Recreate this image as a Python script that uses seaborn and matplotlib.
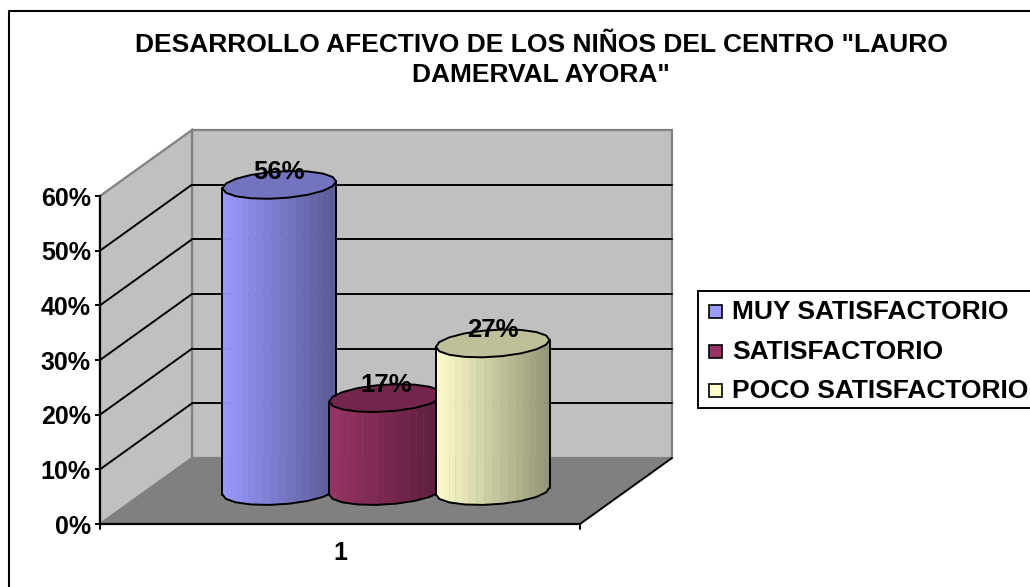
import numpy as np
import pandas as pd
import matplotlib
matplotlib.use('Agg')
import matplotlib.pyplot as plt
import seaborn as sns
from matplotlib.patches import Polygon, Rectangle
from matplotlib.transforms import Affine2D, IdentityTransform

# values
categories = ['1']
series = ['MUY SATISFACTORIO', 'SATISFACTORIO', 'POCO SATISFACTORIO']
values = [56, 17, 27]
colors = ['#9999FF', '#993366', '#FFFFCC']
y_ticks = [0, 10, 20, 30, 40, 50, 60]
title = 'DESARROLLO AFECTIVO DE LOS NIÑOS DEL CENTRO "LAURO\nDAMERVAL AYORA"'

W, H = 1030, 587
DX, DY = 92, 66  # depth of the fake 3d box, pixels


def shade(color, k):
    return tuple(c * k for c in matplotlib.colors.to_rgb(color))


sns.set_theme(style='white')
plt.rcParams['font.family'] = ['Liberation Sans', 'DejaVu Sans']

df = pd.DataFrame({'cat': categories * 3, 'serie': series, 'value': values})

fig = plt.figure(figsize=(W / 100, H / 100), dpi=100)
fig.patch.set_facecolor('white')

ax = fig.add_axes([100 / W, 1 - 524 / H, 480 / W, 328 / H])
sns.barplot(data=df, x='cat', y='value', hue='serie', hue_order=series, palette=colors,
            width=0.667, gap=0, saturation=1, legend=False, ax=ax, zorder=5)
ax.set_xlim(-0.5, 0.5)
ax.set_ylim(0, 60)
ax.patch.set_alpha(0)

mid = ax.transData + Affine2D().translate(DX / 2, DY / 2)

# floor, back wall, side wall
corners = ax.transData.transform([(-0.5, 0), (0.5, 0), (-0.5, 60)])
x0, y0 = corners[0]
x1 = corners[1][0]
y6 = corners[2][1]
px = IdentityTransform()
ax.add_patch(Polygon([(x0, y0), (x1, y0), (x1 + DX, y0 + DY), (x0 + DX, y0 + DY)], transform=px,
                     fc='#808080', ec='none', zorder=1, clip_on=False))
ax.add_patch(Polygon([(x0 + DX, y0 + DY), (x1 + DX, y0 + DY), (x1 + DX, y6 + DY), (x0 + DX, y6 + DY)],
                     transform=px, fc='#C0C0C0', ec='#808080', lw=1.6, zorder=1, clip_on=False))
ax.add_patch(Polygon([(x0, y0), (x0 + DX, y0 + DY), (x0 + DX, y6 + DY), (x0, y6)], transform=px,
                     fc='#C0C0C0', ec='#808080', lw=1.6, zorder=1.5, clip_on=False))
ax.plot([x1, x1 + DX], [y0, y0 + DY], color='black', lw=1.4, transform=px, zorder=2, clip_on=False)
for xe in [x0, x1]:
    ax.plot([xe, xe], [y0, y0 - 5], color='black', lw=1.4, transform=px, zorder=2, clip_on=False)

for t in y_ticks[1:-1]:
    yy = ax.transData.transform((0, t))[1]
    ax.plot([x0, x0 + DX], [yy, yy + DY], color='black', lw=1.4, transform=px, zorder=2, clip_on=False)
    ax.plot([x0 + DX, x1 + DX], [yy + DY, yy + DY], color='black', lw=1.4, transform=px, zorder=2, clip_on=False)

# bars become cylinders, geometry comes from the seaborn rectangles
A_SCALE = 1.065
B = 13.5
TILT = -3.5
N_FACET = 22
N_EDGE = 9
bars = [p for p in ax.patches if isinstance(p, Rectangle) and p.get_zorder() == 5]
for i, (bar, val, col) in enumerate(zip(bars, values, colors)):
    (xa, yb), (xb, yt) = mid.transform([(bar.get_x(), 0), (bar.get_x() + bar.get_width(), bar.get_height())])
    bar.set_visible(False)
    cx = (xa + xb) / 2
    a = (xb - xa) / 2 * A_SCALE
    z = 5 + i
    ts = np.linspace(np.pi, 2 * np.pi, N_FACET + 1)
    for t1, t2 in zip(ts[:-1], ts[1:]):
        pos = ((np.cos(t1) + np.cos(t2)) / 2 + 1) / 2
        k = 1.0 - 0.42 * pos
        pts = [(cx + a * np.cos(t1), yt + B * np.sin(t1) + TILT * -np.cos(t1)),
               (cx + a * np.cos(t2), yt + B * np.sin(t2) + TILT * -np.cos(t2)),
               (cx + a * np.cos(t2), yb + B * np.sin(t2) + TILT * -np.cos(t2)),
               (cx + a * np.cos(t1), yb + B * np.sin(t1) + TILT * -np.cos(t1))]
        ax.add_patch(Polygon(pts, transform=px, fc=shade(col, k), ec=shade(col, k), lw=0.3, zorder=z, clip_on=False))
    # outline and top, few vertices so the edge stays a bit rough
    ta = np.linspace(0, 2 * np.pi, 2 * N_EDGE + 1)
    top = np.column_stack([cx + a * np.cos(ta), yt + B * np.sin(ta) - TILT * np.cos(ta)])
    ax.add_patch(Polygon(top, transform=px, fc=shade(col, 0.75), ec='black', lw=1.4, zorder=z + 0.5, clip_on=False))
    te = np.linspace(np.pi, 2 * np.pi, N_EDGE + 1)
    low = np.column_stack([cx + a * np.cos(te), yb + B * np.sin(te) - TILT * np.cos(te)])
    ax.plot(low[:, 0], low[:, 1], color='black', lw=1.4, transform=px, zorder=z + 0.5, clip_on=False)
    ax.plot([cx - a, cx - a], [yb + TILT, yt + TILT], color='black', lw=1.4, transform=px, zorder=z + 0.5, clip_on=False)
    ax.plot([cx + a, cx + a], [yb - TILT, yt - TILT], color='black', lw=1.4, transform=px, zorder=z + 0.5, clip_on=False)
    ax.text(cx, yt + 13, f'{val}%', transform=px, ha='center', va='center', fontsize=18.5,
            fontweight='bold', color='black', zorder=20, clip_on=False)

sns.despine(ax=ax, top=True, right=True)
for s in ['left', 'bottom']:
    ax.spines[s].set_color('black')
    ax.spines[s].set_linewidth(1.6)
    ax.spines[s].set_zorder(3)
ax.set_yticks(y_ticks)
ax.set_yticklabels([f'{t}%' for t in y_ticks], fontsize=18, fontweight='bold', color='black')
ax.tick_params(axis='y', left=True, length=3.6, width=1.4, color='black', pad=3)
ax.set_xticks([0])
ax.set_xticklabels(categories, fontsize=18, fontweight='bold', color='black')
ax.tick_params(axis='x', bottom=False, pad=6)
ax.set_xlabel('')
ax.set_ylabel('')

fig.text(541 / W, 1 - 60 / H, title, ha='center', va='center', fontsize=19, fontweight='bold',
         color='black', linespacing=1.34)

# frame only has its top and left edge inside the picture
fig.add_artist(plt.Line2D([9 / W, 9 / W, 1], [0, 1 - 11 / H, 1 - 11 / H], color='black', lw=1.5))

# legend box
fig.add_artist(Rectangle((698 / W, 1 - 408 / H), 340 / W, 117 / H, transform=fig.transFigure,
                         fc='white', ec='black', lw=1.4))
for lab, col, yy in zip(series, colors, [312, 352, 391]):
    fig.add_artist(Rectangle((709 / W, 1 - (yy + 6) / H), 13 / W, 13 / H, transform=fig.transFigure,
                             fc=col, ec='black', lw=1.2))
    fig.text(732 / W, 1 - yy / H, lab, ha='left', va='center', fontsize=19, fontweight='bold', color='black')

fig.savefig('out.png', dpi=100)
